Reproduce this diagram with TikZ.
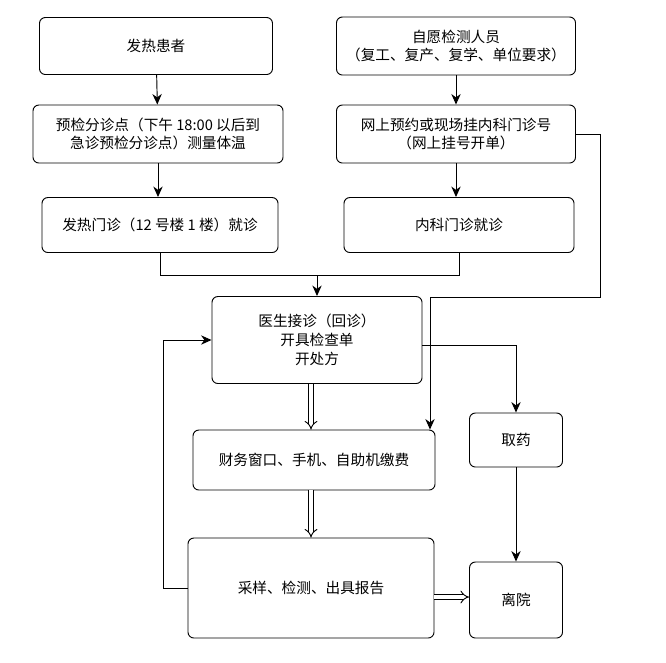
\documentclass[tikz,border=0pt]{standalone}
\usepackage{fontspec}
\setmainfont{Liberation Serif}
\newfontfamily\cjk{Noto Sans CJK SC}
\usetikzlibrary{arrows.meta}
\begin{document}
\begin{tikzpicture}[x=0.03cm,y=-0.03cm,
  box/.style={draw, rounded corners=5pt, thick, align=center, inner sep=0pt, font=\cjk\fontsize{12.5}{16}\selectfont},
  flow/.style={thick, -{Stealth[length=9pt,width=8pt]}},
  hollow/.style={double, double distance=3pt, thick, -{Implies}}]
\useasboundingbox (0,0) rectangle (666,662);
% left column
\node[box, minimum width=233*0.03cm, minimum height=57*0.03cm] (fever) at (156,46) {发热患者};
\node[box, minimum width=250*0.03cm, minimum height=58*0.03cm] (triage) at (158,134) {预检分诊点（下午 18:00 以后到\\急诊预检分诊点）测量体温};
\node[box, minimum width=236*0.03cm, minimum height=55*0.03cm] (fclinic) at (160,225) {发热门诊（12 号楼 1 楼）就诊};
% right column
\node[box, minimum width=239*0.03cm, minimum height=58*0.03cm] (vol) at (456,46) {自愿检测人员\\（复工、复产、复学、单位要求）};
\node[box, minimum width=239*0.03cm, minimum height=58*0.03cm] (reg) at (456,134) {网上预约或现场挂内科门诊号\\（网上挂号开单）};
\node[box, minimum width=230*0.03cm, minimum height=55*0.03cm] (iclinic) at (459,225) {内科门诊就诊};
% middle
\node[box, minimum width=210*0.03cm, minimum height=87*0.03cm] (doc) at (317,340) {医生接诊（回诊）\\开具检查单\\开处方};
\node[box, minimum width=242*0.03cm, minimum height=60*0.03cm] (pay) at (314,460) {财务窗口、手机、自助机缴费};
\node[box, minimum width=93*0.03cm, minimum height=54*0.03cm] (drug) at (516,440) {取药};
\node[box, minimum width=246*0.03cm, minimum height=100*0.03cm] (test) at (311,588) {采样、检测、出具报告};
\node[box, minimum width=93*0.03cm, minimum height=76*0.03cm] (leave) at (516,600) {离院};
\coordinate (join) at (317,275);

\draw[flow] (fever) -- (triage);
\draw[flow] (triage) -- (fclinic.north -| triage);
\draw[flow] (vol) -- (reg);
\draw[flow] (reg) -- (iclinic.north -| reg);
\draw[thick] (fclinic.south) |- (join);
\draw[thick] (iclinic.south) |- (join);
\draw[flow] (join) -- (doc.north);
\draw[flow] (reg.east) -- (600,134) -- (600,297) -- (430,297) -- (pay.north -| 430,0);
\draw[flow] (doc.east |- 0,345) -| (drug.north);
\draw[flow] (drug) -- (leave);
\draw[flow] (test.west) -- (163,588) -- (163,340) -- (doc.west);
\draw[hollow] (doc.south -| 311,0) -- (pay.north -| 311,0);
\draw[hollow] (pay.south -| 311,0) -- (test.north -| 311,0);
\draw[hollow] (test.east |- 0,597) -- (leave.west |- 0,597);
\end{tikzpicture}
\end{document}
